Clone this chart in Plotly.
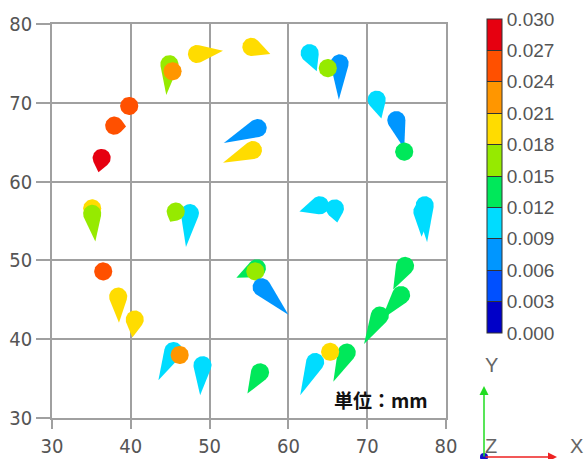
import numpy as np
import plotly.graph_objects as go

# Nodal displacement vectors (mm): base point, projected tip point and magnitude
base_x = [36.3, 37.9, 39.8, 44.9, 45.3, 48.4, 55.3, 56.1, 55.5, 62.7,
          66.5, 65.0, 71.2, 73.7, 74.7, 35.1, 35.1, 47.5, 45.7, 64.0,
          65.9, 77.3, 77.0, 74.8, 74.3, 71.6, 56.0, 55.8, 56.6, 36.5,
          38.4, 40.5, 45.4, 46.2, 49.1, 56.4, 63.4, 67.4, 65.3]
base_y = [63.0, 67.1, 69.6, 74.9, 74.0, 76.2, 77.1, 66.8, 64.0, 76.3,
          75.0, 74.4, 70.4, 67.8, 63.8, 56.6, 55.9, 56.0, 56.2, 57.0,
          56.6, 57.0, 56.2, 49.3, 45.6, 43.0, 49.0, 48.6, 46.6, 48.6,
          45.4, 42.5, 38.5, 38.0, 36.7, 35.8, 37.1, 38.3, 38.4]
tip_x = [35.9, 39.4, 39.8, 44.5, 45.3, 51.7, 57.7, 51.8, 51.7, 63.6,
         66.4, 65.0, 71.8, 74.7, 74.7, 35.1, 35.5, 47.0, 45.0, 61.4,
         66.2, 77.6, 76.9, 73.3, 71.8, 69.6, 53.4, 55.8, 60.0, 36.5,
         38.5, 40.2, 43.5, 46.2, 48.8, 54.8, 61.5, 65.7, 65.3]
tip_y = [61.2, 67.0, 69.6, 71.0, 74.0, 76.6, 76.2, 64.9, 62.4, 74.0,
         70.4, 74.4, 68.0, 64.2, 63.8, 56.6, 52.4, 51.7, 54.9, 56.2,
         54.8, 52.3, 53.0, 46.3, 42.5, 39.4, 47.8, 48.6, 43.1, 48.6,
         42.1, 40.2, 34.8, 38.0, 32.9, 33.1, 32.9, 34.6, 38.4]
magnitude = [0.0285, 0.0255, 0.0255, 0.0165, 0.0225, 0.0195, 0.0195, 0.0075, 0.0195, 0.0105,
             0.0075, 0.0165, 0.0105, 0.0075, 0.0135, 0.0195, 0.0165, 0.0105, 0.0165, 0.0105,
             0.0105, 0.0105, 0.0105, 0.0135, 0.0135, 0.0135, 0.0135, 0.0165, 0.0075, 0.0255,
             0.0195, 0.0195, 0.0105, 0.0225, 0.0105, 0.0135, 0.0105, 0.0135, 0.0195]

# Contour legend levels
levels = [0.000, 0.003, 0.006, 0.009, 0.012, 0.015, 0.018, 0.021, 0.024, 0.027, 0.030]
level_labels = ["0.000", "0.003", "0.006", "0.009", "0.012", "0.015",
                "0.018", "0.021", "0.024", "0.027", "0.030"]
band_colors = ["#0000c8", "#0050ff", "#0096ff", "#00dcff", "#00e85a",
               "#96ea00", "#ffdc00", "#ff9600", "#ff5000", "#e60010"]

VMIN, VMAX = levels[0], levels[-1]
R = 1.15  # radius of the arrow head, in axis units


def band_color(v):
    i = int((v - VMIN) / (VMAX - VMIN) * len(band_colors))
    return band_colors[min(max(i, 0), len(band_colors) - 1)]


def arrow_outline(x0, y0, x1, y1, r):
    dx, dy = x1 - x0, y1 - y0
    d = np.hypot(dx, dy)
    if d <= r * 1.05:
        t = np.linspace(0, 2 * np.pi, 60)
        return x0 + r * np.cos(t), y0 + r * np.sin(t)
    th = np.arctan2(dy, dx)
    a = np.arccos(r / d)
    t = np.linspace(th + a, th + 2 * np.pi - a, 50)
    xs = np.concatenate([x0 + r * np.cos(t), [x1], [x0 + r * np.cos(th + a)]])
    ys = np.concatenate([y0 + r * np.sin(t), [y1], [y0 + r * np.sin(th + a)]])
    return xs, ys


fig = go.Figure()

for bx, by, tx, ty, v in zip(base_x, base_y, tip_x, tip_y, magnitude):
    xs, ys = arrow_outline(bx, by, tx, ty, R)
    c = band_color(v)
    fig.add_trace(go.Scatter(x=xs, y=ys, mode="lines", fill="toself",
                             fillcolor=c, line=dict(width=0, color=c),
                             hoverinfo="skip", showlegend=False))

W, H = 588, 459
L, RM, T, B = 52, 142, 24, 41
PW, PH = W - L - RM, H - T - B


def px(x):
    return (x - L) / PW


def py(y):
    return (H - B - y) / PH


# Stepped colour scale for the legend bar
scale = []
n = len(band_colors)
for i, c in enumerate(band_colors):
    scale.append([i / n, c])
    scale.append([(i + 1) / n, c])

fig.add_trace(go.Scatter(
    x=[None], y=[None], mode="markers", showlegend=False, hoverinfo="skip",
    marker=dict(color=[VMIN], cmin=VMIN, cmax=VMAX, colorscale=scale, showscale=True,
                colorbar=dict(
                    x=px(487), xanchor="left",
                    y=py(19), yanchor="top",
                    len=314 / PH, lenmode="fraction",
                    thickness=15, xpad=0, ypad=0,
                    outlinewidth=1, outlinecolor="#333333",
                    tickvals=levels, ticktext=level_labels,
                    ticks="inside", ticklen=15, tickcolor="#333333", tickwidth=1,
                    tickfont=dict(family="Liberation Sans, Arial", size=19, color="#555555"),
                ))))

axis_font = dict(family="Liberation Sans Narrow, DejaVu Sans Condensed, Liberation Sans, Arial",
                 size=20, color="#555555")
grid = "#a0a0a0"

fig.update_xaxes(range=[30, 80], tickvals=[30, 40, 50, 60, 70, 80],
                 showgrid=True, gridcolor=grid, gridwidth=1.5,
                 showline=True, mirror=True, linecolor=grid, linewidth=1.5,
                 ticks="outside", ticklen=9, tickcolor=grid, tickwidth=1.5,
                 tickfont=axis_font, zeroline=False)
fig.update_yaxes(range=[30, 80], tickvals=[30, 40, 50, 60, 70, 80],
                 showgrid=True, gridcolor=grid, gridwidth=1.5,
                 showline=True, mirror=True, linecolor=grid, linewidth=1.5,
                 ticks="outside", ticklen=14, tickcolor=grid, tickwidth=1.5,
                 tickfont=axis_font, zeroline=False)

label_font = dict(family="Liberation Sans, Arial", size=20, color="#666666")
annotations = [
    dict(x=65.5, y=32.4, xref="x", yref="y", xanchor="left", yanchor="middle",
         text="単位：mm", showarrow=False,
         font=dict(family="Noto Sans CJK JP", size=19, color="#111111", weight=700)),
    # coordinate triad
    dict(x=px(484), y=py(386), xref="paper", yref="paper", text="", showarrow=True,
         ax=0, ay=72, arrowcolor="#22dd22", arrowwidth=1.5, arrowhead=2, arrowsize=1.2),
    dict(x=px(557), y=py(457), xref="paper", yref="paper", text="", showarrow=True,
         ax=-73, ay=0, arrowcolor="#ee2222", arrowwidth=1.5, arrowhead=2, arrowsize=1.2),
    dict(x=px(491), y=py(365), xref="paper", yref="paper", text="Y", showarrow=False,
         xanchor="center", yanchor="middle", font=label_font),
    dict(x=px(576), y=py(446), xref="paper", yref="paper", text="X", showarrow=False,
         xanchor="center", yanchor="middle", font=label_font),
    dict(x=px(491), y=py(446), xref="paper", yref="paper", text="Z", showarrow=False,
         xanchor="center", yanchor="middle", font=label_font),
]

shapes = [
    dict(type="circle", xref="paper", yref="paper", xsizemode="pixel", ysizemode="pixel",
         xanchor=px(484), yanchor=py(457), x0=-4, x1=4, y0=-4, y1=4,
         fillcolor="#1010cc", line=dict(width=0)),
]

fig.update_layout(
    width=W, height=H,
    margin=dict(l=L, r=RM, t=T, b=B, autoexpand=False),
    paper_bgcolor="white", plot_bgcolor="white",
    showlegend=False,
    annotations=annotations, shapes=shapes,
)

fig.write_html("out.html")
